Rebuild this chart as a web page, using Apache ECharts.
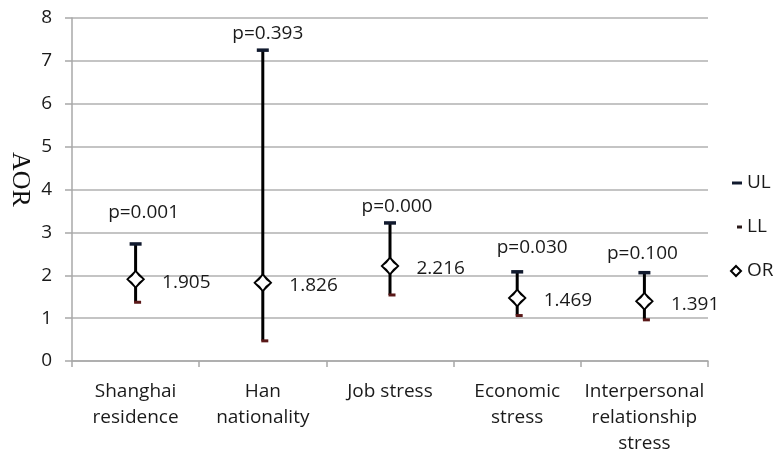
<!DOCTYPE html>
<html>
<head>
<meta charset="utf-8">
<script src="https://cdn.jsdelivr.net/npm/echarts@6/dist/echarts.min.js"></script>
<style>html,body{margin:0;padding:0;background:#fff}#c{width:774px;height:451px}</style>
</head>
<body>
<div id="c"></div>
<script>
var categories = ['Shanghai\nresidence', 'Han\nnationality', 'Job stress', 'Economic\nstress', 'Interpersonal\nrelationship\nstress'];
var orValues = [1.905, 1.826, 2.216, 1.469, 1.391];
var ulValues = [2.73, 7.25, 3.22, 2.08, 2.06];
var llValues = [1.37, 0.47, 1.54, 1.06, 0.96];
var pLabels = ['p=0.001', 'p=0.393', 'p=0.000', 'p=0.030', 'p=0.100'];
var yTicks = [0, 1, 2, 3, 4, 5, 6, 7, 8];

// label styling offsets (style only)
var pLabelOffsets = [[8, -15], [5, 0], [7, 0], [15, -7], [-2, -2]];

var FONT = '"Open Sans", "Noto Sans", sans-serif';
var TXT = '#1a1a1a';

var chart = echarts.init(document.getElementById('c'), null, {renderer: 'canvas'});

var errData = categories.map(function (c, i) { return [i, llValues[i], ulValues[i]]; });
var ulData = ulValues.map(function (v, i) {
  return {value: v, label: {offset: pLabelOffsets[i], formatter: pLabels[i]}};
});

chart.setOption({
  animation: false,
  backgroundColor: '#fff',
  grid: {left: 72, right: 66, top: 18, bottom: 90, containLabel: false, outerBoundsMode: 'none'},
  legend: {
    orient: 'vertical',
    left: 724,
    top: 168,
    itemWidth: 12,
    itemHeight: 14,
    itemGap: 24,
    textStyle: {fontFamily: FONT, fontSize: 19, color: TXT, lineHeight: 20},
    data: [
      {name: 'UL', icon: 'path://M0,0M12,14M2,5.5h10v3h-10z', itemStyle: {color: '#111a2e', opacity: 1}},
      {name: 'LL', icon: 'path://M0,0M12,14M7,5.5h5v3h-5z', itemStyle: {color: '#2a1a1a', opacity: 1}},
      {name: 'OR', icon: 'path://M0,0M12,14M6,2L11,7L6,12L1,7Z', itemStyle: {color: '#fff', borderColor: '#000', borderWidth: 2, opacity: 1}}
    ]
  },
  xAxis: {
    type: 'category',
    data: categories,
    boundaryGap: true,
    axisLine: {show: true, lineStyle: {color: '#a8a8a8', width: 1.5}},
    axisTick: {show: true, length: 6, lineStyle: {color: '#a8a8a8', width: 1.5}},
    axisLabel: {fontFamily: FONT, fontSize: 19, color: TXT, lineHeight: 26, margin: 18, interval: 0},
    splitLine: {show: false}
  },
  yAxis: {
    type: 'value',
    min: 0,
    max: 8,
    interval: 1,
    name: 'AOR',
    nameLocation: 'middle',
    nameRotate: -90,
    nameGap: 39,
    nameMoveOverlap: false,
    nameTextStyle: {fontFamily: '"Liberation Serif", "Times New Roman", serif', fontSize: 26, color: '#111', padding: [0, 20, 0, 0]},
    axisLine: {show: true, lineStyle: {color: '#a8a8a8', width: 1.5}},
    axisTick: {show: true, inside: false, length: 7, lineStyle: {color: '#a8a8a8', width: 1.5}},
    axisLabel: {fontFamily: FONT, fontSize: 19, color: TXT, margin: 20,
      formatter: function (v) { return yTicks.indexOf(v) >= 0 ? String(v) : ''; }},
    splitLine: {show: true, lineStyle: {color: '#b0b0b0', width: 1.5}}
  },
  series: [
    {
      name: 'errbar',
      type: 'custom',
      silent: true,
      z: 2,
      data: errData,
      renderItem: function (params, api) {
        var x = api.value(0);
        var p1 = api.coord([x, api.value(1)]);
        var p2 = api.coord([x, api.value(2)]);
        return {
          type: 'line',
          shape: {x1: p1[0], y1: p1[1], x2: p2[0], y2: p2[1]},
          style: {stroke: '#000', lineWidth: 3}
        };
      }
    },
    {
      name: 'UL',
      type: 'scatter',
      z: 3,
      symbol: 'rect',
      symbolSize: [12, 3.5],
      itemStyle: {color: '#111a2e', opacity: 1},
      label: {show: true, position: 'top', distance: 5, fontFamily: FONT, fontSize: 19, color: TXT, lineHeight: 20},
      data: ulData
    },
    {
      name: 'LL',
      type: 'scatter',
      z: 3,
      symbol: 'rect',
      symbolSize: [7, 3],
      symbolOffset: [2, 0],
      itemStyle: {color: '#5a1818', opacity: 1},
      data: llValues
    },
    {
      name: 'OR',
      type: 'scatter',
      z: 4,
      symbol: 'diamond',
      symbolSize: [19, 19],
      itemStyle: {color: '#000', opacity: 1},
      label: {show: true, position: 'right', distance: 17, offset: [0, 3], fontFamily: FONT, fontSize: 19, color: TXT,
        formatter: function (p) { return Number(p.value).toFixed(3); }},
      data: orValues
    },
    {
      name: 'ORinner',
      type: 'scatter',
      z: 5,
      silent: true,
      symbol: 'path://M0,-10 Q3.8,-3.8 10,0 Q3.8,3.8 0,10 Q-3.8,3.8 -10,0 Q-3.8,-3.8 0,-10 Z',
      symbolSize: [14, 14],
      itemStyle: {color: '#fff', opacity: 1},
      data: orValues
    }
  ]
});
</script>
</body>
</html>
